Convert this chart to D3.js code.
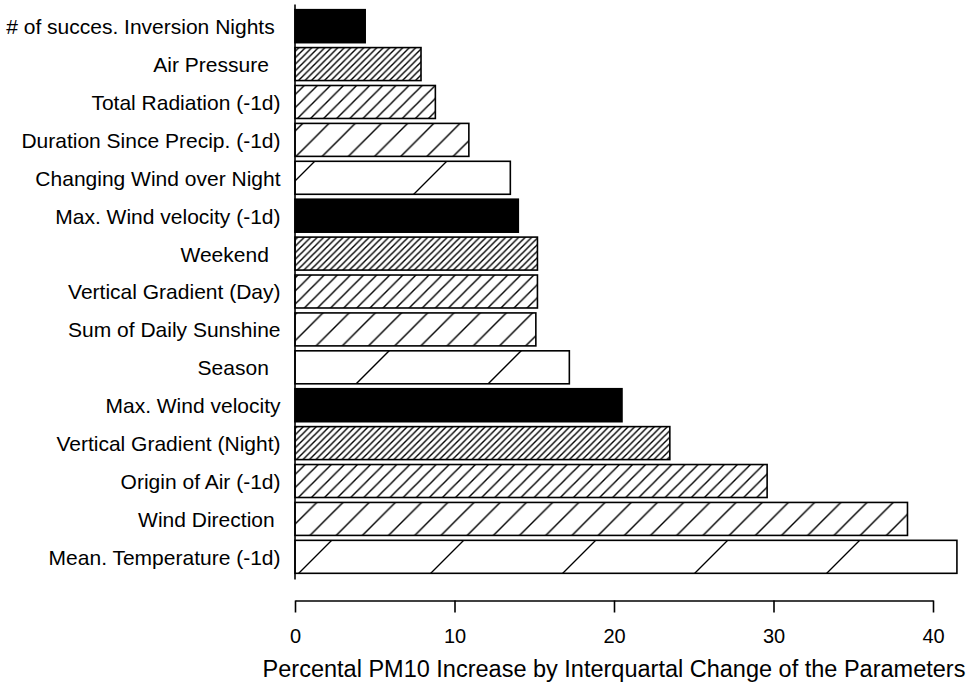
<!DOCTYPE html>
<html>
<head>
<meta charset="utf-8">
<script src="https://cdn.jsdelivr.net/npm/d3@7"></script>
<style>
body { margin: 0; background: #fff; }
text { font-family: "Liberation Sans", Arial, sans-serif; fill: #000; white-space: pre; }
</style>
</head>
<body>
<div id="chart"></div>
<script>
/* Data */

var labels = [
	"# of succes. Inversion Nights ",
	"Air Pressure  ",
	"Total Radiation (-1d)",
	"Duration Since Precip. (-1d)",
	"Changing Wind over Night",
	"Max. Wind velocity (-1d)",
	"Weekend  ",
	"Vertical Gradient (Day)",
	"Sum of Daily Sunshine",
	"Season  ",
	"Max. Wind velocity",
	"Vertical Gradient (Night)",
	"Origin of Air (-1d)",
	"Wind Direction ",
	"Mean. Temperature (-1d)"
];
var values = [4.4, 7.9, 8.8, 10.9, 13.5, 14.0, 15.2, 15.2, 15.1, 17.2, 20.5, 23.5, 29.6, 38.4, 41.5];
var xTicks = [0, 10, 20, 30, 40];
var xTitle = "Percental PM10 Increase by Interquartal Change of the Parameters";

/* Hatch styles, repeating every 5 bars. s = line spacing (0 = solid black), p = phase */
var hatch = [{s: 0}, {s: 6.5, p: 2}, {s: 13.1, p: 9.8}, {s: 26.2, p: 7}, {s: 132, p: 80}];

var width = 973,
    height = 690;

var svg = d3.select("#chart").append("svg")
	.attr("width", width)
	.attr("height", height);

var x = d3.scaleLinear().domain([0, 40]).range([295, 933]);
var y = d3.scaleBand().domain(d3.range(labels.length)).range([4, 579])
	.paddingInner(0.13).paddingOuter(0.15);

/* ------- PATTERNS -------*/
var defs = svg.append("defs");
hatch.forEach(function(h, i) {
	if (!h.s) return;
	var s = h.s;
	var p = defs.append("pattern")
		.attr("id", "hatch" + i)
		.attr("patternUnits", "userSpaceOnUse")
		.attr("x", h.p)
		.attr("width", s)
		.attr("height", s);
	p.append("rect").attr("width", s).attr("height", s).attr("fill", "#fff");
	p.append("path")
		.attr("d", "M0," + s + "L" + s + ",0M-2,2L2,-2M" + (s - 2) + "," + (s + 2) + "L" + (s + 2) + "," + (s - 2))
		.attr("stroke", "#000")
		.attr("stroke-width", 1.4)
		.attr("fill", "none");
});

function fillFor(i) {
	var k = i % hatch.length;
	return hatch[k].s ? "url(#hatch" + k + ")" : "#000";
}

/* ------- BARS -------*/
svg.append("g").selectAll("rect")
	.data(values)
	.enter().append("rect")
	.attr("x", x(0))
	.attr("y", function(d, i) { return y(i); })
	.attr("width", function(d) { return x(d) - x(0); })
	.attr("height", y.bandwidth())
	.attr("fill", function(d, i) { return fillFor(i); })
	.attr("stroke", "#000")
	.attr("stroke-width", 1.6);

/* ------- Y AXIS -------*/
var yAxis = svg.append("g")
	.attr("transform", "translate(294.5,0)")
	.call(d3.axisLeft(y).tickSize(0).tickSizeOuter(0).tickPadding(14)
		.tickFormat(function(i) { return labels[i]; }));
yAxis.select(".domain").attr("stroke-width", 1.6);
yAxis.selectAll("text").attr("font-size", 21).attr("font-family", null).attr("dy", "0.38em");

/* ------- X AXIS -------*/
var xAxis = svg.append("g")
	.attr("transform", "translate(0,600.5)")
	.call(d3.axisBottom(x).tickValues(xTicks).tickSize(12).tickSizeOuter(0).tickPadding(16));
xAxis.select(".domain").attr("stroke-width", 1.6);
xAxis.selectAll(".tick line").attr("stroke-width", 1.6);
xAxis.selectAll("text").attr("font-size", 20).attr("font-family", null);

svg.append("text")
	.attr("x", x(20))
	.attr("y", 677)
	.attr("text-anchor", "middle")
	.attr("font-size", 23.5)
	.text(xTitle);
</script>
</body>
</html>
